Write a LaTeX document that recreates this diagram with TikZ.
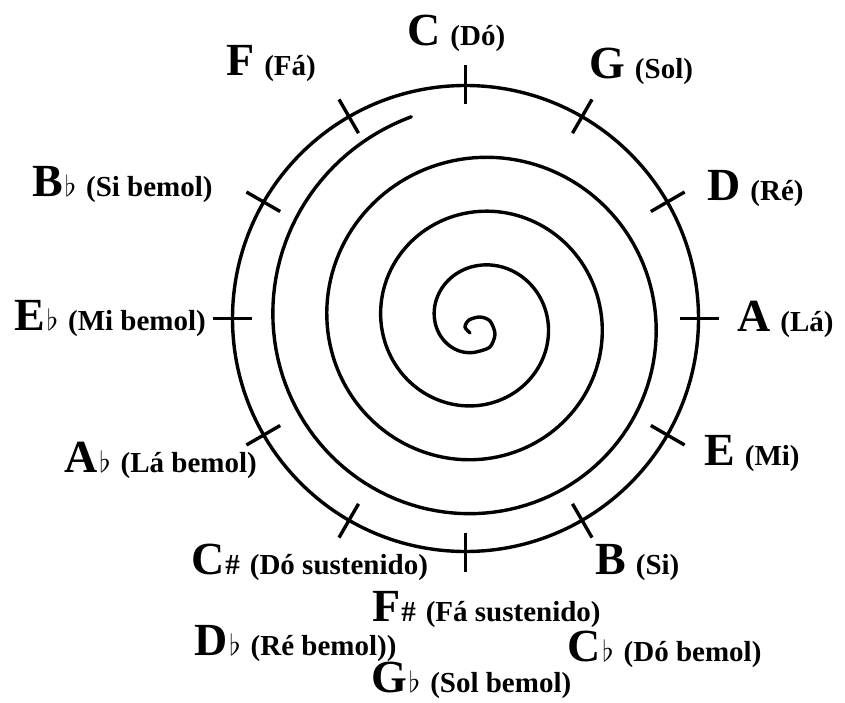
\documentclass[tikz,border=0pt]{standalone}
\usepackage{fontspec}
\setmainfont{Liberation Serif}
\tikzset{ring/.style={line width=3.4pt}}
\tikzset{tickmark/.style={line width=3.4pt}}
\tikzset{spiralline/.style={line width=3.4pt,line cap=round,line join=round}}
\tikzset{keynote/.style={anchor=base west,inner sep=0pt,font=\bfseries}}
\newcommand{\keyfont}{\fontsize{46}{46}\selectfont}
\newcommand{\namefont}{\fontsize{29}{29}\selectfont}
\newcommand{\flt}{\hspace{2pt}\scalebox{2.9}{$\flat$}}
\newcommand{\shp}{\hspace{1pt}{\namefont\#}}
\newcommand{\keylabel}[3]{{\keyfont #1}#2\hspace{10pt}{\namefont #3}}

\begin{document}
\begin{tikzpicture}[x=1pt,y=-1pt]
    \useasboundingbox (0,0) rectangle (845,703);
    % outer ring and the twelve ticks
    \draw[ring] (465.5,318.5) circle (233);
    \begin{scope}[shift={(465.5,318.5)}]
        \foreach \a in {0,30,...,330}
            \draw[tickmark] (\a:214) -- (\a:253);
    \end{scope}
    % spiral, ending in a small curl
    \draw[spiralline] plot[domain=108:1350,samples=500,variable=\t]
        ({478+(232-0.15*\t)*cos(\t)},{322-(232-0.15*\t)*sin(\t)})
        -- plot[smooth] coordinates {(478,351.5) (490,347) (495,334) (490,321) (480,317) (469,320) (465,327) (470,333)};
    % key names
    \node[keynote] (C)  at (407,46)  {\keylabel{C}{}{(Dó)}};
    \node[keynote] (G)  at (589,79)  {\keylabel{G}{}{(Sol)}};
    \node[keynote] (D)  at (707,201) {\keylabel{D}{}{(Ré)}};
    \node[keynote] (A)  at (737,331) {\keylabel{A}{}{(Lá)}};
    \node[keynote] (E)  at (704,465) {\keylabel{E}{}{(Mi)}};
    \node[keynote] (B)  at (595,574) {\keylabel{B}{}{(Si)}};
    \node[keynote] (Cb) at (567,661) {\keylabel{C}{\flt}{(Dó bemol)}};
    \node[keynote] (Gb) at (371,692) {\keylabel{G}{\flt}{(Sol bemol)}};
    \node[keynote] (Fs) at (372,621) {\keylabel{F}{\shp}{(Fá sustenido)}};
    \node[keynote] (Db) at (194,655) {\keylabel{D}{\flt}{(Ré bemol))}};
    \node[keynote] (Cs) at (191,574) {\keylabel{C}{\shp}{(Dó sustenido)}};
    \node[keynote] (Ab) at (64,472)  {\keylabel{A}{\flt}{(Lá bemol)}};
    \node[keynote] (Eb) at (14,330)  {\keylabel{E}{\flt}{(Mi bemol)}};
    \node[keynote] (Bb) at (32,197)  {\keylabel{B}{\flt}{(Si bemol)}};
    \node[keynote] (F)  at (226,76)  {\keylabel{F}{}{(Fá)}};
\end{tikzpicture}
\end{document}
